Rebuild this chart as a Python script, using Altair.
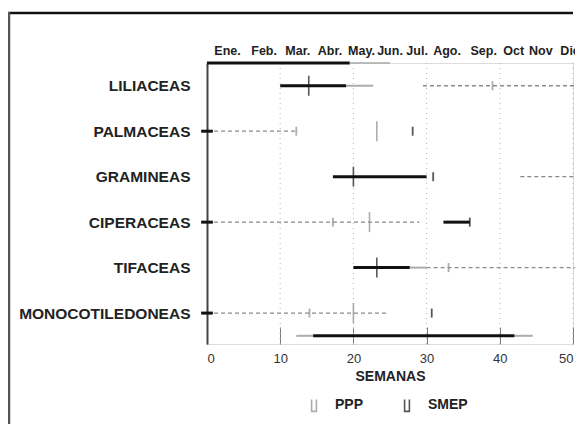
import altair as alt
import pandas as pd

# ---------------- data ----------------
families = ["LILIACEAS", "PALMACEAS", "GRAMINEAS", "CIPERACEAS", "TIFACEAS", "MONOCOTILEDONEAS"]
family_rows = [0, 1, 2, 3, 4, 5]

months = ["Ene.", "Feb.", "Mar.", "Abr.", "May.", "Jun.", "Jul.", "Ago.", "Sep.", "Oct", "Nov", "Dic"]
month_week = [2.8, 7.8, 12.4, 16.8, 21.1, 25.0, 28.7, 32.8, 37.8, 41.9, 45.6, 49.6]

x_ticks = [0, 10, 20, 30, 40, 50]
grid_weeks = [10, 20, 30, 40, 50]

# SMEP solid ranges (weeks)
smep_row = [0, 2, 3, 4, 5.5]
smep_start = [10.0, 17.2, 32.3, 20.0, 14.5]
smep_end = [19.0, 30.0, 35.9, 27.7, 42.0]

# SMEP faint tails
tail_row = [0, 4, 5.5, 5.5]
tail_start = [19.0, 27.7, 12.2, 42.0]
tail_end = [22.7, 30.0, 14.5, 44.5]

# PPP dashed ranges
ppp_row = [0, 1, 2, 3, 4, 5]
ppp_start = [29.5, 0.0, 42.8, 0.0, 30.0, 0.0]
ppp_end = [51.5, 12.2, 51.5, 29.0, 51.5, 24.5]

# main (mean) markers
mean_row = [0, 1, 2, 3, 4, 5]
mean_week = [13.9, 23.2, 20.0, 22.2, 23.2, 20.0]
mean_series = ["SMEP", "PPP", "SMEP", "PPP", "SMEP", "PPP"]

# secondary markers
minor_row = [0, 1, 1, 2, 3, 3, 4, 5, 5]
minor_week = [39.0, 12.2, 28.1, 30.9, 17.2, 35.9, 33.0, 14.0, 30.7]
minor_series = ["PPP", "PPP", "SMEP", "SMEP", "PPP", "SMEP", "PPP", "PPP", "SMEP"]

# start caps at week 0
cap_row = [1, 3, 5]

# top bar segments (weeks)
top_strong = [0.0, 19.5]
top_faint = [19.5, 25.0]

series_names = ["PPP", "SMEP"]
series_colors = ["#8a8a8a", "#111111"]
color_of = dict(zip(series_names, series_colors))

# ---------------- chart ----------------
FONT = "Liberation Sans"
xs = alt.Scale(domain=[0, 50], nice=False, zero=False)
ys = alt.Scale(domain=[-0.5, 5.68], reverse=True, nice=False, zero=False)
cs = alt.Scale(domain=series_names, range=series_colors)

label_expr = "[" + ",".join("'%s'" % f for f in families) + "][datum.value]"

x_axis = alt.Axis(values=x_ticks, title="SEMANAS", domain=False, grid=False,
                  offset=-17, tickSize=17, tickColor="#777", tickWidth=1,
                  labelFontSize=13, labelColor="#333", labelFont=FONT, labelPadding=8,
                  titleFontSize=14, titleFontWeight="bold", titleColor="#222",
                  titleFont=FONT, titlePadding=4)
y_axis = alt.Axis(values=family_rows, labelExpr=label_expr, title=None, ticks=False,
                  grid=False, domainColor="#444", domainWidth=2, labelPadding=17,
                  labelFontSize=15.5, labelFontWeight="bold", labelColor="#222", labelFont=FONT)

legend = alt.Legend(title=None, orient="none", legendX=100, legendY=335, direction="horizontal",
                    symbolType="M-0.4,-1V1H0.4V-1", symbolSize=144, symbolStrokeWidth=1.6,
                    symbolFillColor="transparent", labelFontSize=14, labelFontWeight="bold",
                    labelFont=FONT, labelColor="#222", labelOffset=14, columnPadding=36)

df_grid = pd.DataFrame({"w": grid_weeks})
grid = alt.Chart(df_grid).mark_rule(color="#b5b5b5", strokeDash=[1, 4], strokeWidth=1).encode(
    x=alt.X("w:Q", scale=xs, axis=x_axis))

df_ppp = pd.DataFrame({"row": ppp_row, "s": ppp_start, "e": ppp_end, "series": "PPP"})
ppp = alt.Chart(df_ppp).mark_rule(strokeDash=[4, 3], strokeWidth=1.3).encode(
    x=alt.X("s:Q", scale=xs, axis=x_axis), x2="e:Q",
    y=alt.Y("row:Q", scale=ys, axis=y_axis),
    color=alt.Color("series:N", scale=cs, legend=legend))

df_smep = pd.DataFrame({"row": smep_row, "s": smep_start, "e": smep_end, "series": "SMEP"})
smep = alt.Chart(df_smep).mark_rule(strokeWidth=3).encode(
    x=alt.X("s:Q", scale=xs, axis=x_axis), x2="e:Q",
    y=alt.Y("row:Q", scale=ys, axis=y_axis),
    color=alt.Color("series:N", scale=cs, legend=legend))

df_tail = pd.DataFrame({"row": tail_row, "s": tail_start, "e": tail_end})
tail = alt.Chart(df_tail).mark_rule(strokeWidth=2, color="#666", opacity=0.55).encode(
    x=alt.X("s:Q", scale=xs, axis=x_axis), x2="e:Q", y=alt.Y("row:Q", scale=ys, axis=y_axis))

df_mean = pd.DataFrame({"row": mean_row, "w": mean_week,
                        "c": [color_of[s] for s in mean_series]})
means = alt.Chart(df_mean).mark_tick(orient="vertical", size=20, thickness=1.6).encode(
    x=alt.X("w:Q", scale=xs, axis=x_axis), y=alt.Y("row:Q", scale=ys, axis=y_axis),
    color=alt.Color("c:N", scale=None))

df_minor = pd.DataFrame({"row": minor_row, "w": minor_week,
                         "c": [color_of[s] for s in minor_series]})
minors = alt.Chart(df_minor).mark_tick(orient="vertical", size=9, thickness=1.8).encode(
    x=alt.X("w:Q", scale=xs, axis=x_axis), y=alt.Y("row:Q", scale=ys, axis=y_axis),
    color=alt.Color("c:N", scale=None))

df_cap = pd.DataFrame({"row": cap_row, "s": [-0.8] * len(cap_row), "e": [0.8] * len(cap_row)})
caps = alt.Chart(df_cap).mark_rule(strokeWidth=3, color="#111").encode(
    x=alt.X("s:Q", scale=xs, axis=x_axis), x2="e:Q", y=alt.Y("row:Q", scale=ys, axis=y_axis))

df_top1 = pd.DataFrame({"s": [top_strong[0]], "e": [top_strong[1]]})
df_top2 = pd.DataFrame({"s": [top_faint[0]], "e": [top_faint[1]]})
top1 = alt.Chart(df_top1).mark_rule(color="#111", strokeWidth=3).encode(
    x=alt.X("s:Q", scale=xs, axis=x_axis), x2="e:Q", y=alt.value(0))
top2 = alt.Chart(df_top2).mark_rule(color="#aaa", strokeWidth=1.5).encode(
    x=alt.X("s:Q", scale=xs, axis=x_axis), x2="e:Q", y=alt.value(0))

df_month = pd.DataFrame({"m": months, "w": month_week})
month_txt = alt.Chart(df_month).mark_text(fontSize=12.5, fontWeight="bold", font=FONT,
                                          color="#222", baseline="middle").encode(
    x=alt.X("w:Q", scale=xs, axis=x_axis), y=alt.value(-12), text="m:N")

# page frame (top and left edges)
df_one = pd.DataFrame({"k": [0]})
frame_top = alt.Chart(df_one).mark_rule(color="#111", strokeWidth=2.5).encode(
    x=alt.value(-199), x2=alt.value(366), y=alt.value(-50))
frame_left = alt.Chart(df_one).mark_rule(color="#555", strokeWidth=2.5).encode(
    x=alt.value(-198), y=alt.value(-51), y2=alt.value(390))

chart = alt.layer(grid, tail, ppp, smep, means, minors, caps, top1, top2, month_txt,
                  frame_top, frame_left).properties(
    width=366, height=281,
    autosize=alt.AutoSizeParams(type="none"),
    padding={"left": 199, "top": 55, "right": 2, "bottom": 80},
).configure_view(stroke=None).configure(background="white")

chart.save("out.html", embed_options={"renderer": "svg", "actions": False})
